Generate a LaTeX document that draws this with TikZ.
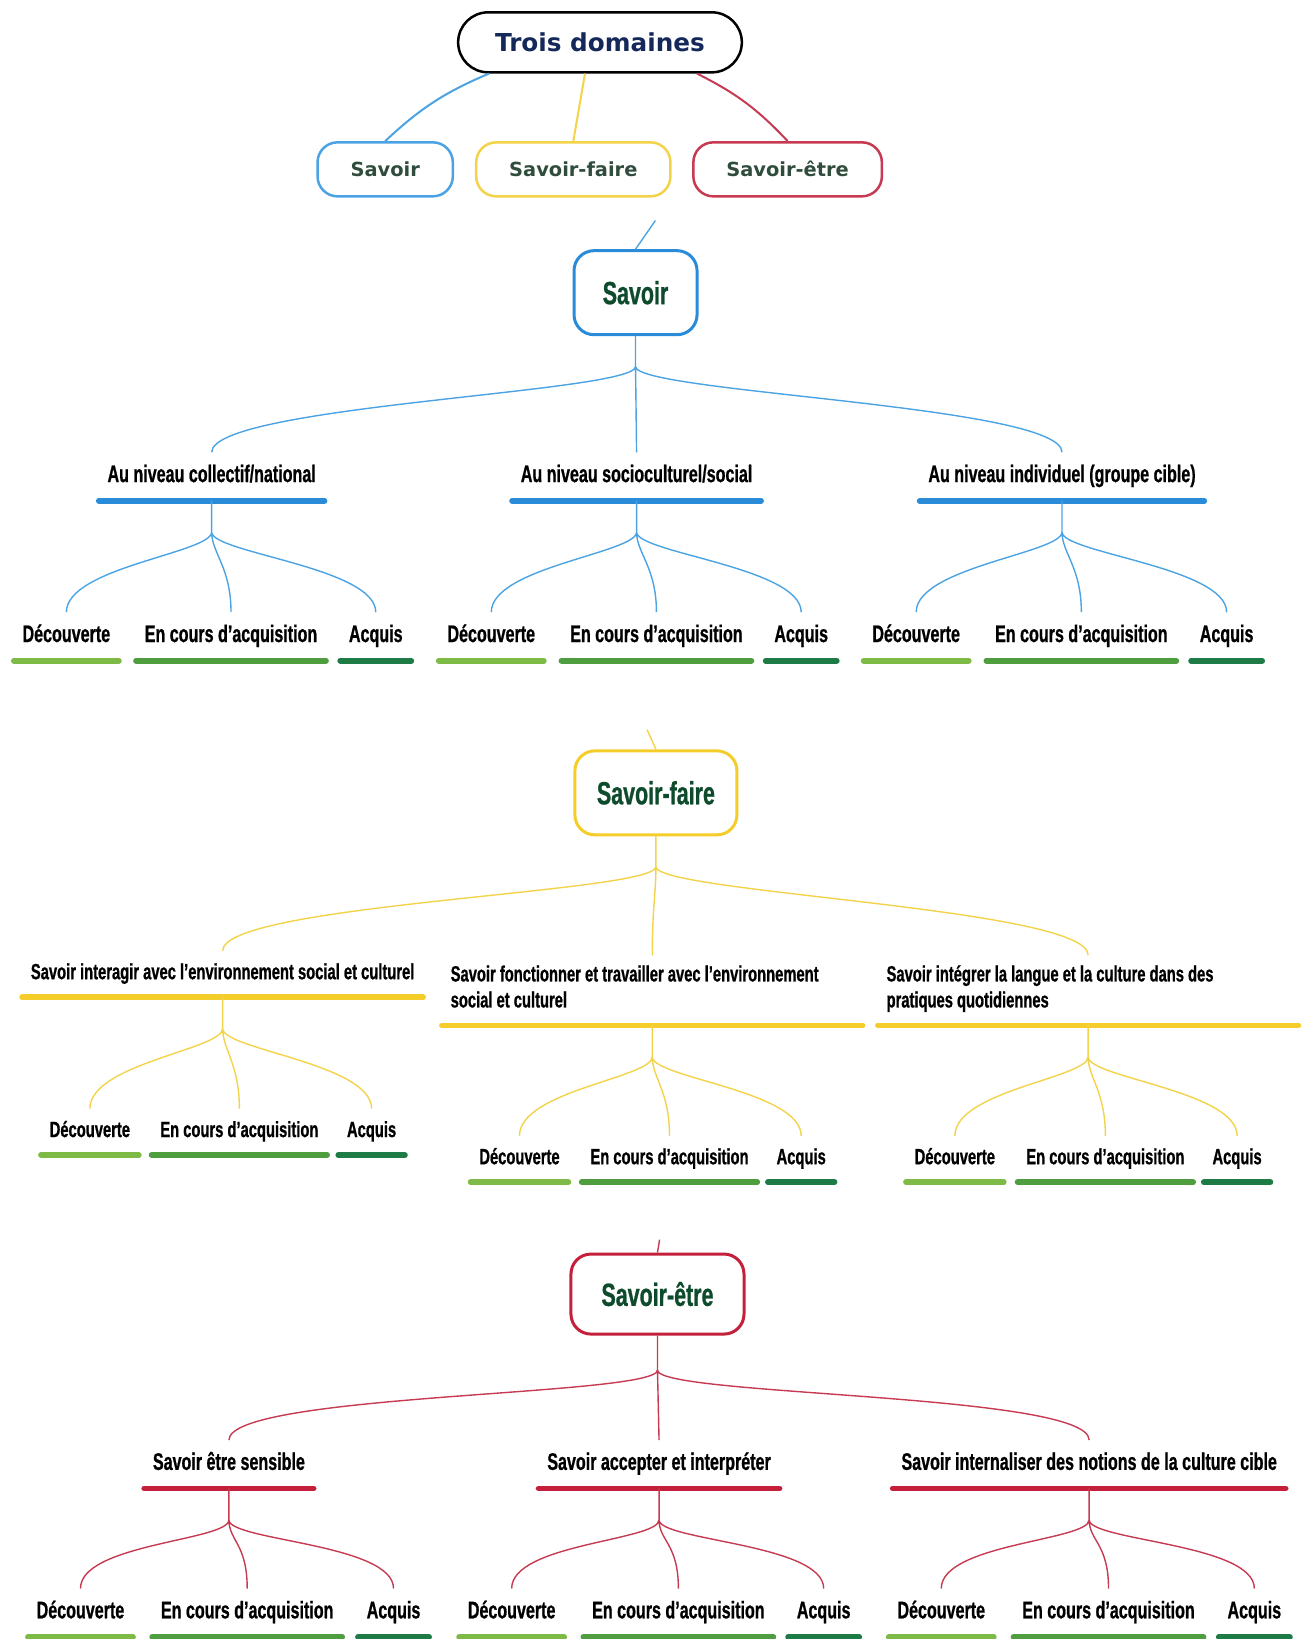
\documentclass[tikz,border=0pt]{standalone}
\usepackage{fontspec}
\usepackage{tikz}
\usepackage{xcolor}
\newfontfamily\condfont[FakeStretch=0.67,FakeBold=0.8]{Liberation Sans Bold}
\newfontfamily\boxfont{DejaVu Sans Bold}
\definecolor{sblue}{HTML}{4BA3E3}
\definecolor{sbluebar}{HTML}{2A8BD9}
\definecolor{syellow}{HTML}{F3D34A}
\definecolor{syellowbar}{HTML}{F5CD2A}
\definecolor{sred}{HTML}{C63A52}
\definecolor{sredbar}{HTML}{C41F3B}
\definecolor{gone}{HTML}{7DBB46}
\definecolor{gtwo}{HTML}{4E9D3F}
\definecolor{gthree}{HTML}{1F7B45}
\definecolor{deepgreen}{HTML}{0E4B2C}
\definecolor{boxgreen}{HTML}{2F4C3C}
\definecolor{navy}{HTML}{14285A}

\begin{document}
\begin{tikzpicture}[x=1.045pt,y=-1.045pt,
  bline/.style={draw=sblue,line width=1.4pt},
  yline/.style={draw=syellow,line width=1.4pt},
  rline/.style={draw=sred,line width=1.4pt},
  rootbox/.style={draw=black,line width=2.5pt,rounded corners=30pt,inner xsep=37pt,
    minimum height=60pt,text=navy,font=\boxfont\fontsize{24.7}{30}\selectfont},
  smallbox/.style={draw=#1,line width=2.5pt,rounded corners=20pt,inner xsep=33pt,
    minimum height=54pt,text=boxgreen,font=\boxfont\fontsize{19.4}{24}\selectfont},
  bigbox/.style={draw=#1,line width=3pt,rounded corners=20pt,inner xsep=0pt,
    minimum height=84pt,text=deepgreen,font=\condfont\fontsize{32}{38}\selectfont},
  labelbar/.style={inner xsep=8.5pt,inner ysep=10pt,anchor=south,execute at end node=\strut,
    append after command={\pgfextra{\let\barnode\tikzlastnode}
      (\barnode.south west) edge[draw=#1,line width=5.8pt,line cap=round] (\barnode.south east)}},
  bigfont/.style={font=\condfont\fontsize{24}{28}\selectfont},
  smallfont/.style={font=\condfont\fontsize{22}{26}\selectfont}]
  \useasboundingbox (0,0) rectangle (1248,1568);

  % top: three domains
  \node[rootbox] (root) at (574,40.5) {Trois domaines};
  \node[smallbox=sblue] (s1) at (368.5,162) {Savoir};
  \node[smallbox=syellow] (s2) at (548.5,162) {Savoir-faire};
  \node[smallbox=sred] (s3) at (753.5,162) {Savoir-être};
  \draw[bline,line width=2pt] ([xshift=-111pt]root.south) to[bend right=10] (s1.north);
  \draw[yline,line width=2pt] ([xshift=-15pt]root.south) -- (s2.north);
  \draw[rline,line width=2pt] ([xshift=97pt]root.south) to[bend left=10] (s3.north);

  % Savoir
  \coordinate (svin) at (627,211);
  \node[bigbox=sbluebar,minimum width=123pt] (sv) at (608,280) {Savoir};
  \draw[bline] (svin) -- (sv.north);
  \node[labelbar=sbluebar,bigfont] (sv1) at (202.5,479) {Au niveau collectif/national};
  \node[labelbar=sbluebar,bigfont] (sv2) at (609,479) {Au niveau socioculturel/social};
  \node[labelbar=sbluebar,bigfont] (sv3) at (1016,479) {Au niveau individuel (groupe cible)};
  \draw[bline] (sv.south) -- ++(0,29) coordinate (sv0)
    .. controls +(0,25) and +(0,-45) .. (sv1.north)
    (sv0) -- (sv2.north)
    (sv0) .. controls +(0,25) and +(0,-45) .. (sv3.north);
  \node[labelbar=gone,bigfont] (sv1a) at (63.5,632) {Découverte};
  \node[labelbar=gtwo,bigfont] (sv1b) at (221,632) {En cours d’acquisition};
  \node[labelbar=gthree,bigfont] (sv1c) at (359.5,632) {Acquis};
  \node[labelbar=gone,bigfont] (sv2a) at (470,632) {Découverte};
  \node[labelbar=gtwo,bigfont] (sv2b) at (628,632) {En cours d’acquisition};
  \node[labelbar=gthree,bigfont] (sv2c) at (766.5,632) {Acquis};
  \node[labelbar=gone,bigfont] (sv3a) at (876.5,632) {Découverte};
  \node[labelbar=gtwo,bigfont] (sv3b) at (1034.5,632) {En cours d’acquisition};
  \node[labelbar=gthree,bigfont] (sv3c) at (1173.5,632) {Acquis};
  \draw[bline] (sv1.south) -- ++(0,30) coordinate (sv1f)
    .. controls +(0,20) and +(0,-43) .. (sv1a.north)
    (sv1f) .. controls +(0,20) and +(0,-43) .. (sv1b.north)
    (sv1f) .. controls +(0,20) and +(0,-43) .. (sv1c.north);
  \draw[bline] (sv2.south) -- ++(0,30) coordinate (sv2f)
    .. controls +(0,20) and +(0,-43) .. (sv2a.north)
    (sv2f) .. controls +(0,20) and +(0,-43) .. (sv2b.north)
    (sv2f) .. controls +(0,20) and +(0,-43) .. (sv2c.north);
  \draw[bline] (sv3.south) -- ++(0,30) coordinate (sv3f)
    .. controls +(0,20) and +(0,-43) .. (sv3a.north)
    (sv3f) .. controls +(0,20) and +(0,-43) .. (sv3b.north)
    (sv3f) .. controls +(0,20) and +(0,-43) .. (sv3c.north);

  % Savoir-faire
  \coordinate (sfin) at (619,698);
  \node[bigbox=syellowbar,minimum width=162pt] (sf) at (627.5,758.5) {Savoir-faire};
  \draw[yline] (sfin) -- (sf.north);
  \node[labelbar=syellowbar,smallfont] (sf1) at (213,954) {Savoir interagir avec l’environnement social et culturel};
  \node[labelbar=syellowbar,smallfont,text width=403pt,align=flush left] (sf2) at (624,981)
    {Savoir fonctionner et travailler avec l’environnement\\social et culturel};
  \node[labelbar=syellowbar,smallfont,text width=403pt,align=flush left] (sf3) at (1041,981)
    {Savoir intégrer la langue et la culture dans des\\pratiques quotidiennes};
  \draw[yline] (sf.south) -- ++(0,29) coordinate (sf0)
    .. controls +(0,25) and +(0,-45) .. (sf1.north)
    (sf0) .. controls +(0,25) and +(0,-45) .. (sf2.north)
    (sf0) .. controls +(0,25) and +(0,-45) .. (sf3.north);
  \node[labelbar=gone,smallfont] (sf1a) at (86,1105) {Découverte};
  \node[labelbar=gtwo,smallfont] (sf1b) at (229,1105) {En cours d’acquisition};
  \node[labelbar=gthree,smallfont] (sf1c) at (355.5,1105) {Acquis};
  \node[labelbar=gone,smallfont] (sf2a) at (497,1131) {Découverte};
  \node[labelbar=gtwo,smallfont] (sf2b) at (640.5,1131) {En cours d’acquisition};
  \node[labelbar=gthree,smallfont] (sf2c) at (766.5,1131) {Acquis};
  \node[labelbar=gone,smallfont] (sf3a) at (913.5,1131) {Découverte};
  \node[labelbar=gtwo,smallfont] (sf3b) at (1057.5,1131) {En cours d’acquisition};
  \node[labelbar=gthree,smallfont] (sf3c) at (1183.5,1131) {Acquis};
  \draw[yline] (sf1.south) -- ++(0,30) coordinate (sf1f)
    .. controls +(0,20) and +(0,-43) .. (sf1a.north)
    (sf1f) .. controls +(0,20) and +(0,-43) .. (sf1b.north)
    (sf1f) .. controls +(0,20) and +(0,-43) .. (sf1c.north);
  \draw[yline] (sf2.south) -- ++(0,30) coordinate (sf2f)
    .. controls +(0,20) and +(0,-43) .. (sf2a.north)
    (sf2f) .. controls +(0,20) and +(0,-43) .. (sf2b.north)
    (sf2f) .. controls +(0,20) and +(0,-43) .. (sf2c.north);
  \draw[yline] (sf3.south) -- ++(0,30) coordinate (sf3f)
    .. controls +(0,20) and +(0,-43) .. (sf3a.north)
    (sf3f) .. controls +(0,20) and +(0,-43) .. (sf3b.north)
    (sf3f) .. controls +(0,20) and +(0,-43) .. (sf3c.north);

  % Savoir-etre
  \coordinate (sein) at (631,1186);
  \node[bigbox=sredbar,minimum width=173pt,minimum height=80pt] (se) at (629,1238) {Savoir-être};
  \draw[rline] (sein) -- (se.north);
  \node[labelbar=sredbar,bigfont] (se1) at (219,1424) {Savoir être sensible};
  \node[labelbar=sredbar,bigfont] (se2) at (630.5,1424) {Savoir accepter et interpréter};
  \node[labelbar=sredbar,bigfont] (se3) at (1042,1424) {Savoir internaliser des notions de la culture cible};
  \draw[rline] (se.south) -- ++(0,33) coordinate (se0)
    .. controls +(0,25) and +(0,-45) .. (se1.north)
    (se0) -- (se2.north)
    (se0) .. controls +(0,25) and +(0,-45) .. (se3.north);
  \node[labelbar=gone,bigfont] (se1a) at (77,1566) {Découverte};
  \node[labelbar=gtwo,bigfont] (se1b) at (236.5,1566) {En cours d’acquisition};
  \node[labelbar=gthree,bigfont] (se1c) at (376.5,1566) {Acquis};
  \node[labelbar=gone,bigfont] (se2a) at (489.5,1566) {Découverte};
  \node[labelbar=gtwo,bigfont] (se2b) at (649,1566) {En cours d’acquisition};
  \node[labelbar=gthree,bigfont] (se2c) at (788,1566) {Acquis};
  \node[labelbar=gone,bigfont] (se3a) at (900.5,1566) {Découverte};
  \node[labelbar=gtwo,bigfont] (se3b) at (1060.5,1566) {En cours d’acquisition};
  \node[labelbar=gthree,bigfont] (se3c) at (1200,1566) {Acquis};
  \draw[rline] (se1.south) -- ++(0,30) coordinate (se1f)
    .. controls +(0,20) and +(0,-43) .. (se1a.north)
    (se1f) .. controls +(0,20) and +(0,-43) .. (se1b.north)
    (se1f) .. controls +(0,20) and +(0,-43) .. (se1c.north);
  \draw[rline] (se2.south) -- ++(0,30) coordinate (se2f)
    .. controls +(0,20) and +(0,-43) .. (se2a.north)
    (se2f) .. controls +(0,20) and +(0,-43) .. (se2b.north)
    (se2f) .. controls +(0,20) and +(0,-43) .. (se2c.north);
  \draw[rline] (se3.south) -- ++(0,30) coordinate (se3f)
    .. controls +(0,20) and +(0,-43) .. (se3a.north)
    (se3f) .. controls +(0,20) and +(0,-43) .. (se3b.north)
    (se3f) .. controls +(0,20) and +(0,-43) .. (se3c.north);
\end{tikzpicture}
\end{document}
